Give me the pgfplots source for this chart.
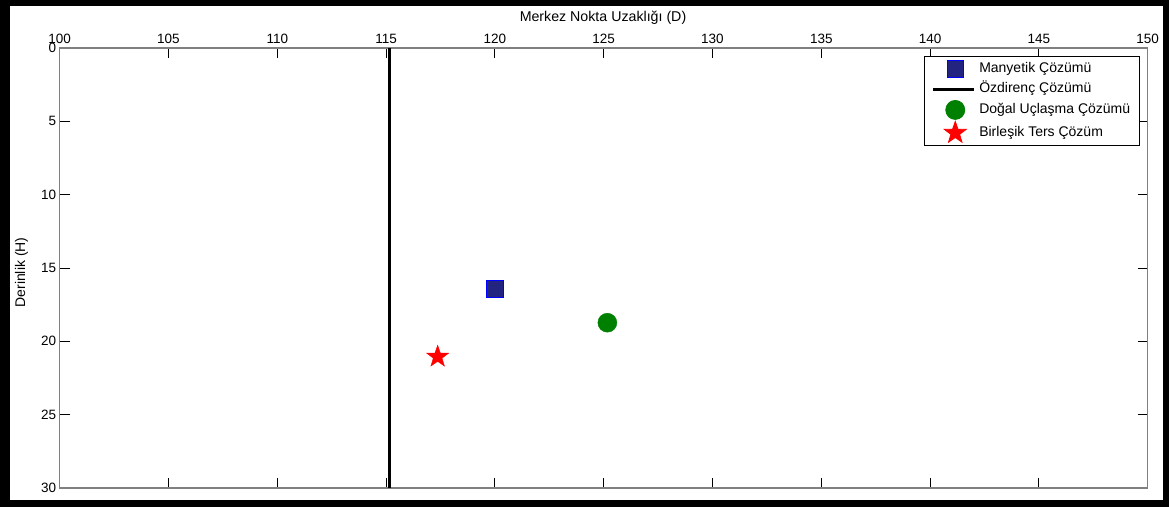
\documentclass[border=0pt]{standalone}
\usepackage{fontspec}
\setmainfont{Liberation Sans}
\usepackage{pgfplots}
\pgfplotsset{compat=1.18}
\definecolor{navyfill}{RGB}{35,35,128}
\definecolor{mgreen}{RGB}{0,128,0}
\pgfdeclareplotmark{fstar}{%
  \pgfpathmoveto{\pgfpointpolar{90}{\pgfplotmarksize}}%
  \pgfpathlineto{\pgfpointpolar{126}{0.4\pgfplotmarksize}}%
  \pgfpathlineto{\pgfpointpolar{162}{\pgfplotmarksize}}%
  \pgfpathlineto{\pgfpointpolar{198}{0.4\pgfplotmarksize}}%
  \pgfpathlineto{\pgfpointpolar{234}{\pgfplotmarksize}}%
  \pgfpathlineto{\pgfpointpolar{270}{0.4\pgfplotmarksize}}%
  \pgfpathlineto{\pgfpointpolar{306}{\pgfplotmarksize}}%
  \pgfpathlineto{\pgfpointpolar{342}{0.4\pgfplotmarksize}}%
  \pgfpathlineto{\pgfpointpolar{18}{\pgfplotmarksize}}%
  \pgfpathlineto{\pgfpointpolar{54}{0.4\pgfplotmarksize}}%
  \pgfpathclose
  \pgfusepathqfillstroke}
\pgfplotsset{
  legmark/.style={legend image code/.code={\path[draw=none,fill=none] (0pt,-1pt) rectangle (44pt,1pt);\draw[##1] plot coordinates {(22pt,0pt)};}},
  legline/.style={legend image code/.code={\path[draw=none,fill=none] (0pt,-1pt) rectangle (44pt,1pt);\draw[##1] (0pt,0pt) -- (41pt,0pt);}},
}
\begin{document}
\begin{tikzpicture}
\path[use as bounding box] (0pt,0pt) rectangle (1169pt,507pt);
\fill[black] (0pt,0pt) rectangle (1169pt,507pt);
\fill[white] (10pt,7pt) rectangle (1163pt,501pt);
\begin{axis}[
  at={(59.7pt,19pt)}, anchor=south west,
  scale only axis, width=1088pt, height=440pt,
  xmin=100, xmax=150, ymin=0, ymax=30,
  y dir=reverse,
  xtick={100,105,...,150}, ytick={0,5,...,30},
  xticklabel pos=upper,
  tick align=inside,
  major tick length=10pt,
  axis line style={draw=gray, line width=1.1pt},
  major tick style={black, line width=0.8pt},
  tick label style={font=\fontsize{13.5}{15}\selectfont},
  xticklabel style={yshift=1pt},
  /pgf/number format/assume math mode=true,
  clip=false,
  legend cell align=left,
  legend style={at={(axis description cs:0.9926,0.9818)}, anchor=north east,
    font=\fontsize{14}{16}\selectfont, draw=black, line width=0.8pt,
    row sep=2pt, inner xsep=7pt, inner ysep=3pt,
    nodes={inner sep=2pt, text height=11pt, text depth=3.5pt}},
]
\addplot[only marks, mark=square*, mark size=8.3pt, draw=blue, fill=navyfill, line width=0.5pt, legmark]
  coordinates {(120.0,16.43)};
\addlegendentry{Manyetik Çözümü}
\addplot[black, line width=2.8pt, legline]
  coordinates {(115.15,0) (115.15,30)};
\addlegendentry{Özdirenç Çözümü}
\addplot[only marks, mark=*, mark size=9.5pt, draw=mgreen, fill=mgreen, legmark]
  coordinates {(125.17,18.73)};
\addlegendentry{Doğal Uçlaşma Çözümü}
\addplot[only marks, mark=fstar, mark size=11.5pt, draw=red, fill=red, legmark]
  coordinates {(117.37,21.05)};
\addlegendentry{Birleşik Ters Çözüm}
\end{axis}
\node[font=\fontsize{14.2}{16}\selectfont] at (603pt,489pt) {Merkez Nokta Uzaklığı (D)};
\node[font=\fontsize{14}{16}\selectfont, rotate=90] at (21.5pt,234.5pt) {Derinlik (H)};
\end{tikzpicture}
\end{document}
